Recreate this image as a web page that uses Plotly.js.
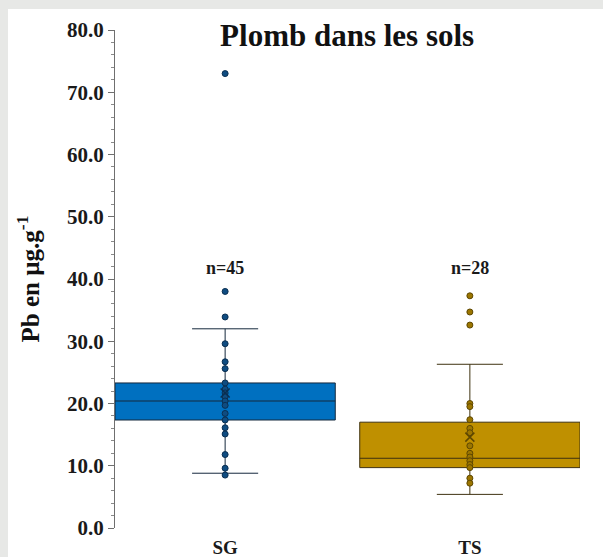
<!DOCTYPE html>
<html>
<head>
<meta charset="utf-8">
<script src="https://cdn.plot.ly/plotly-3.0.1.min.js"></script>
<style>
html,body{margin:0;padding:0;width:603px;height:557px;overflow:hidden;background:#e7e8e6;}
#chart{position:absolute;left:8px;top:9px;width:595px;height:548px;background:#fff;}
</style>
</head>
<body>
<div id="chart"></div>
<script>
// Categories
const categories = ["SG", "TS"];
const counts = [45, 28];

// Box statistics
const q1 = [17.35, 9.7];
const medians = [20.4, 11.2];
const q3 = [23.3, 17.0];
const lowerFences = [8.8, 5.4];
const upperFences = [32.0, 26.3];
const means = [21.7, 14.6];

// Individual points
const pointsSG = [73.0, 38.0, 33.9, 29.6, 26.7, 25.6, 23.3, 22.3, 21.7, 21.1, 20.4, 19.7, 18.4, 17.35, 16.1, 15.1, 11.8, 9.6, 8.5];
const pointsTS = [37.3, 34.7, 32.6, 20.0, 19.5, 17.4, 16.0, 15.3, 13.2, 12.0, 11.4, 10.8, 10.2, 9.7, 8.0, 7.2];

const boxFill = ["#0070c0", "#bf9000"];
const boxLine = ["#15283d", "#3f3210"];
const dotFill = ["#0f4c81", "#9c7600"];
const dotLine = ["#0a2f52", "#5e4700"];

const serif = "Liberation Serif, Times New Roman, serif";

const traces = [];
categories.forEach((c, i) => {
  traces.push({
    type: "box",
    x: [c],
    q1: [q1[i]], median: [medians[i]], q3: [q3[i]],
    lowerfence: [lowerFences[i]], upperfence: [upperFences[i]],
    fillcolor: boxFill[i],
    line: {color: boxLine[i], width: 1},
    whiskerwidth: 0.3,
    width: 0.9,
    boxpoints: false,
    hoverinfo: "skip",
    showlegend: false
  });
});
[pointsSG, pointsTS].forEach((pts, i) => {
  traces.push({
    type: "scatter", mode: "markers",
    x: pts.map(() => categories[i]), y: pts,
    marker: {size: 6, color: dotFill[i], line: {color: dotLine[i], width: 1}},
    hoverinfo: "y", showlegend: false
  });
});
traces.push({
  type: "scatter", mode: "markers",
  x: categories, y: means,
  marker: {symbol: "x-thin-open", size: 9, color: dotLine, line: {color: dotLine, width: 1.5}},
  showlegend: false, hoverinfo: "y"
});

const annotations = categories.map((c, i) => ({
  x: c, y: 41.8, xref: "x", yref: "y",
  text: "<b>n=" + counts[i] + "</b>", showarrow: false,
  font: {family: serif, size: 18, color: "#1a1a1a"}
}));

const layout = {
  width: 595, height: 548,
  margin: {l: 107, r: 23, t: 21, b: 29},
  paper_bgcolor: "#ffffff", plot_bgcolor: "#ffffff",
  title: {
    text: "<b>Plomb dans les sols</b>",
    font: {family: serif, size: 31, color: "#111"},
    x: 0.570, xanchor: "center", y: 0.953, yanchor: "middle"
  },
  xaxis: {
    type: "category",
    range: [-0.45, 1.45],
    showline: false, showgrid: false, zeroline: false, ticks: "",
    tickfont: {family: serif, size: 19, color: "#1a1a1a", weight: "bold"},
    ticklabelstandoff: 6
  },
  yaxis: {
    range: [0, 80],
    dtick: 10, tick0: 0, tickformat: ".1f",
    showline: true, linecolor: "#6f6f6f", linewidth: 1,
    ticks: "outside", ticklen: 6, tickcolor: "#6f6f6f",
    minor: {dtick: 2, ticks: "outside", ticklen: 3, tickcolor: "#8a8a8a", showgrid: false},
    showgrid: false, zeroline: false,
    tickfont: {family: serif, size: 21, color: "#1a1a1a", weight: "bold"},
    title: {text: "<b>Pb en µg.g<sup>-1</sup></b>", font: {family: serif, size: 25, color: "#111"}, standoff: 20}
  },
  annotations: annotations
};

Plotly.newPlot("chart", traces, layout, {displayModeBar: false, staticPlot: true});
</script>
</body>
</html>
